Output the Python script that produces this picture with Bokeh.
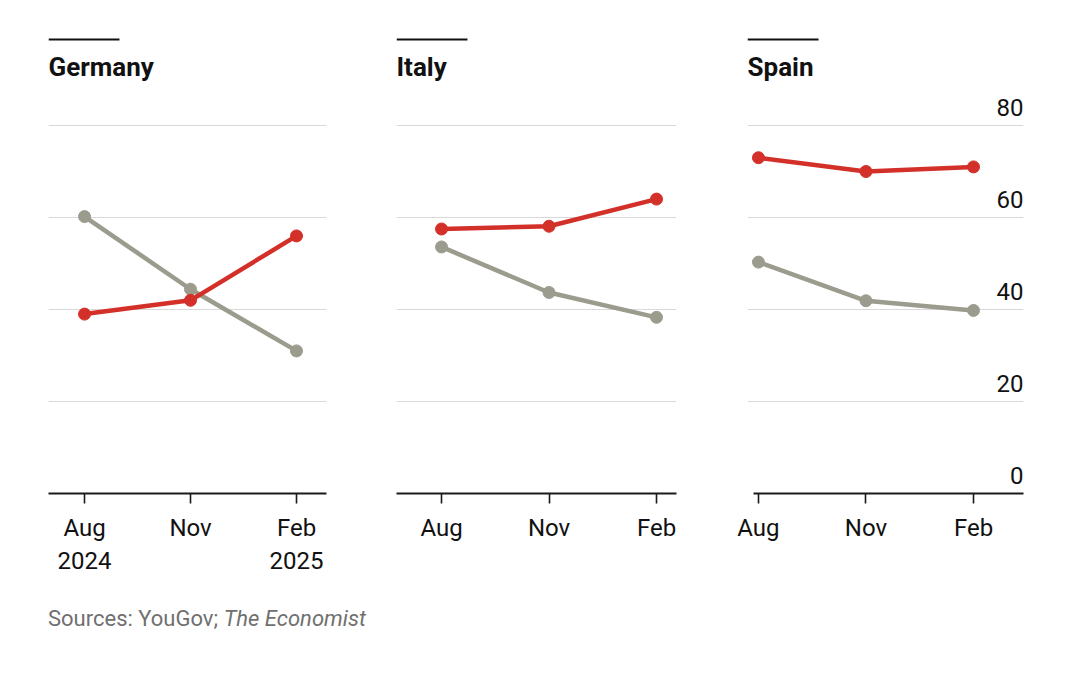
from bokeh.plotting import figure
from bokeh.layouts import row, column
from bokeh.models import Range1d, FixedTicker, Grid, Label, BoxAnnotation, Div
from bokeh.core.properties import value
from bokeh.embed import file_html
from bokeh.resources import INLINE

countries = ["Germany", "Italy", "Spain"]
months = ["Aug", "Nov", "Feb"]
month_labels_first = ["Aug\n2024", "Nov", "Feb\n2025"]
red_germany = [39.0, 42.0, 56.0]
grey_germany = [60.2, 44.4, 31.0]
red_italy = [57.5, 58.1, 64.0]
grey_italy = [53.6, 43.7, 38.3]
red_spain = [73.0, 70.0, 71.0]
grey_spain = [50.3, 41.9, 39.8]
y_ticks = [0, 20, 40, 60, 80]
y_tick_labels = ["0", "20", "40", "60", "80"]
source_text = 'Sources: YouGov; <i>The Economist</i>'

RED = "#d4302a"
GREY = "#9b9b8e"
FONT = "Roboto"

panels = [
    dict(name="Germany", red=red_germany, grey=grey_germany, labels=month_labels_first,
         width=358, bl=48, br=32, xr=(-0.34, 2.283), step=106.0, ab=None, yaxis=False),
    dict(name="Italy", red=red_italy, grey=grey_italy, labels=months,
         width=350, bl=38, br=32, xr=(-0.419, 2.186), step=107.5, ab=None, yaxis=False),
    dict(name="Spain", red=red_spain, grey=grey_spain, labels=months,
         width=364, bl=39, br=49, xr=(-0.102, 2.465), step=107.5, ab=(-0.047, 2.465), yaxis=True),
]

TOP = 13
FRAME_H = 480
BOT = 97
H = TOP + FRAME_H + BOT
PX = FRAME_H / 104.35  # px per unit
ytop = FRAME_H / PX

def ydata(page_y):
    return (TOP + FRAME_H - page_y) / PX

figs = []
for pn in panels:
    xs = list(range(len(months)))
    p = figure(width=pn["width"], height=H, output_backend="svg", toolbar_location=None,
               x_range=Range1d(*pn["xr"]), y_range=Range1d(0, ytop),
               y_axis_location=None, min_border_left=pn["bl"], min_border_right=pn["br"],
               min_border_top=TOP, min_border_bottom=BOT)
    p.outline_line_color = None
    p.background_fill_color = "white"
    p.border_fill_color = "white"
    p.xgrid.visible = False
    p.ygrid.visible = False
    p.add_layout(Grid(dimension=1, ticker=FixedTicker(ticks=y_ticks[1:]),
                      grid_line_color="#d9d9d9", grid_line_width=1.2))
    ax = p.xaxis[0]
    ax.ticker = FixedTicker(ticks=xs)
    ax.major_label_overrides = {i: lab for i, lab in enumerate(pn["labels"])}
    if pn["ab"] is not None:
        ax.bounds = pn["ab"]
    ax.axis_line_color = "#1a1a1a"
    ax.axis_line_width = 1.8
    ax.major_tick_line_color = "#1a1a1a"
    ax.major_tick_line_width = 1.6
    ax.major_tick_in = 0
    ax.major_tick_out = 10
    ax.minor_tick_line_color = None
    ax.major_label_text_font = FONT
    ax.major_label_text_font_size = "24px"
    ax.major_label_text_color = "#111111"
    ax.major_label_standoff = 10

    p.line(xs, pn["grey"], line_width=4.5, color=GREY)
    p.scatter(xs, pn["grey"], size=12, color=GREY)
    p.line(xs, pn["red"], line_width=4.5, color=RED)
    p.scatter(xs, pn["red"], size=12, color=RED)

    x0 = pn["xr"][0]
    p.add_layout(Label(x=x0, y=ydata(66),
                       text=pn["name"], text_font=FONT, text_font_size="26px",
                       text_font_style="bold", text_color="#111111", text_baseline="alphabetic"))
    p.add_layout(BoxAnnotation(left=x0, right=x0 + 71 / pn["step"],
                               bottom=ydata(40), top=ydata(38),
                               fill_color="#111111", fill_alpha=1, line_color=None))
    if pn["yaxis"]:
        p.text(x=[pn["xr"][1]] * len(y_ticks), y=y_ticks, text=y_tick_labels,
               text_align="right", text_baseline="alphabetic", y_offset=-18,
               text_font=value(FONT), text_font_size="24px", text_color="#111111")
    figs.append(p)

src = Div(text=source_text, width=1064, height=60, margin=(0, 0, 0, 0),
          styles={"font-family": FONT, "font-size": "22px", "color": "#707070",
                  "padding-left": "48px", "padding-top": "13px"})

layout = column(row(*figs, spacing=0), src, spacing=0)
open("out.html", "w").write(file_html(layout, INLINE))
